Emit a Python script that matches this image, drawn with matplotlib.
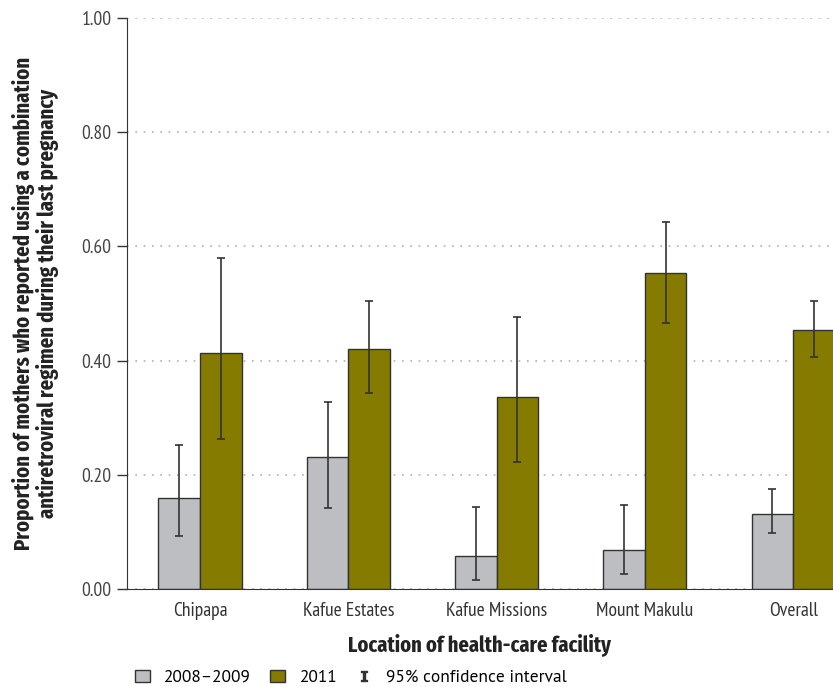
import matplotlib as mpl
mpl.use('Agg')
import matplotlib.pyplot as plt
from matplotlib.patches import Patch
from matplotlib.lines import Line2D
import numpy as np

facilities = ["Chipapa", "Kafue Estates", "Kafue Missions", "Mount Makulu", "Overall"]
p2008 = [0.160, 0.232, 0.057, 0.068, 0.131]
lo2008 = [0.093, 0.141, 0.016, 0.026, 0.098]
hi2008 = [0.253, 0.327, 0.144, 0.147, 0.175]
p2011 = [0.414, 0.421, 0.336, 0.553, 0.454]
lo2011 = [0.263, 0.344, 0.222, 0.465, 0.406]
hi2011 = [0.580, 0.504, 0.476, 0.642, 0.504]
yticks = [0.0, 0.2, 0.4, 0.6, 0.8, 1.0]

narrow = ['PT Sans Narrow', 'DejaVu Sans']
xnarrow = ['Fira Sans Extra Condensed', 'PT Sans Narrow', 'DejaVu Sans']
regular = ['PT Sans', 'Open Sans', 'DejaVu Sans']
gray = '#bdbec2'
green = '#847b00'
dark = '#333333'

fig = plt.figure(figsize=(8.33, 6.87), dpi=100)
ax = fig.add_axes([127/833, 1 - 589/687, 1 - 127/833, (589 - 18)/687])

x = np.arange(len(facilities))
w = 0.28
err08 = [np.array(p2008) - np.array(lo2008), np.array(hi2008) - np.array(p2008)]
err11 = [np.array(p2011) - np.array(lo2011), np.array(hi2011) - np.array(p2011)]
ax.bar(x - w/2, p2008, w, color=gray, edgecolor=dark, linewidth=1, zorder=2)
ax.bar(x + w/2, p2011, w, color=green, edgecolor=dark, linewidth=1, zorder=2)
ax.errorbar(x - w/2, p2008, yerr=err08, fmt='none', ecolor=dark, elinewidth=1.2, capsize=3, capthick=1.2, zorder=3)
ax.errorbar(x + w/2, p2011, yerr=err11, fmt='none', ecolor=dark, elinewidth=1.2, capsize=3, capthick=1.2, zorder=3)

ax.set_xlim(-0.492, 4.268)
ax.set_ylim(0, 1.0)
ax.set_yticks(yticks)
ax.set_yticklabels(["%.2f" % v for v in yticks], family=narrow, fontsize=14, color='#444444')
ax.set_xticks(x)
ax.set_xticklabels(facilities, family=narrow, fontsize=14, color='#333333')
ax.tick_params(axis='x', length=0, pad=9)
ax.tick_params(axis='y', length=7, width=1, color=dark, pad=4)
ax.yaxis.grid(True, linestyle=(0, (1, 4)), color='#b0b0b0', linewidth=1.2)
ax.set_axisbelow(True)
for s in ['top', 'right']:
    ax.spines[s].set_visible(False)
ax.spines['left'].set_color(dark)
ax.spines['bottom'].set_color(dark)

ax.set_ylabel("Proportion of mothers who reported using a combination\nantiretroviral regimen during their last pregnancy",
              family=xnarrow, fontsize=16.2, fontweight='bold', color='#222222', linespacing=1.03)
ax.yaxis.set_label_coords(-0.097, 0.5)
ax.set_xlabel("Location of health-care facility", family=xnarrow, fontsize=16, fontweight='bold',
              color='#222222', labelpad=10)

handles = [Patch(facecolor=gray, edgecolor=dark, linewidth=1),
           Patch(facecolor=green, edgecolor=dark, linewidth=1),
           Line2D([], [], marker='$\\mathtt{I}$', linestyle='none', color=dark, markersize=7)]
fig.legend(handles, ["2008\u20132009", "2011", "95% confidence interval"], loc='center left',
           bbox_to_anchor=(0.162, 1 - 678/687), ncol=3, frameon=False,
           borderpad=0, borderaxespad=0,
           handlelength=0.85, handleheight=0.62, handletextpad=0.85, columnspacing=1.1,
           prop={'family': regular, 'size': 12.5})

fig.savefig("out.png", dpi=100)
